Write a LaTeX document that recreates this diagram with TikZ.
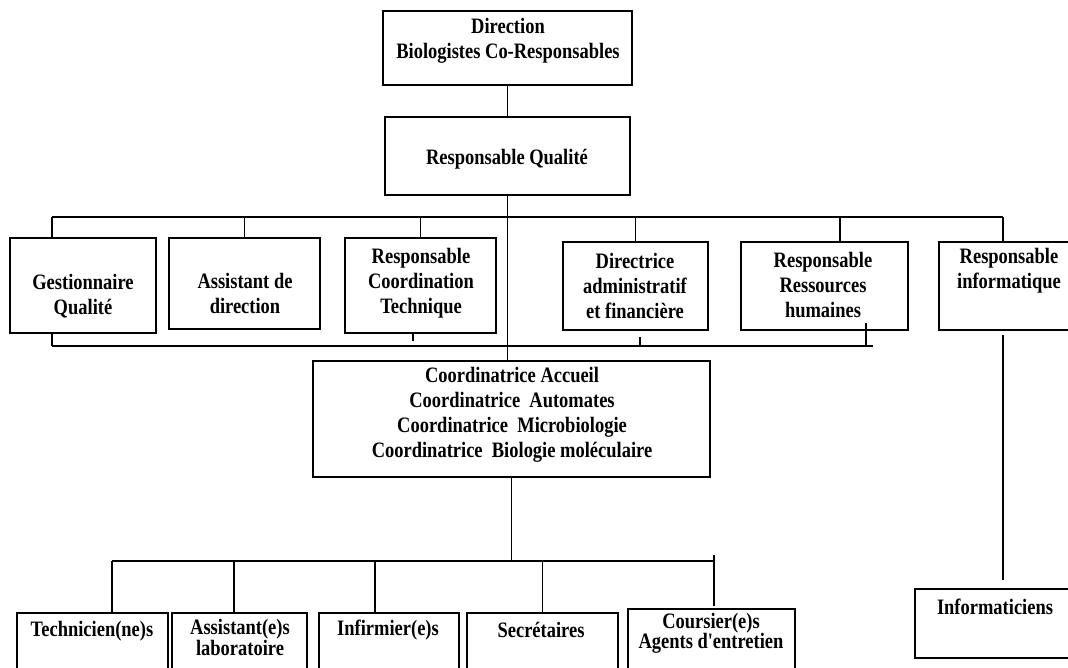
\documentclass[tikz,border=0pt]{standalone}
\usepackage{fontspec}
\newfontfamily\tnr[FakeStretch=0.84]{Liberation Serif}
\begin{document}
\begin{tikzpicture}[x=1pt,y=-1pt,
  box/.style={draw, line width=1.7pt, inner sep=0pt},
  txt/.style={font=\tnr\bfseries\fontsize{22}{25}\selectfont, align=center, inner sep=0pt},
  ln/.style={line width=1.7pt}]
\clip (0,0) rectangle (1068,667);
\fill[white] (0,0) rectangle (1068,667);
% boxes
\node[box, minimum width=249, minimum height=74] (dir) at (507.5,48) {};
\node[box, minimum width=245, minimum height=78] (rq) at (507.5,156) {};
\node[box, minimum width=146, minimum height=95] (gq) at (83,285.5) {};
\node[box, minimum width=151, minimum height=91] (ad) at (244.5,283.5) {};
\node[box, minimum width=151, minimum height=95] (rct) at (420.5,285.5) {};
\node[box, minimum width=145, minimum height=88] (daf) at (635.5,286) {};
\node[box, minimum width=167, minimum height=88] (rrh) at (824.5,286) {};
\node[box, minimum width=151, minimum height=88] (ri) at (1014.5,286) {};
\node[box, minimum width=397, minimum height=116] (coord) at (511.5,419) {};
\node[box, minimum width=151, minimum height=87] (tech) at (92.5,656.5) {};
\node[box, minimum width=135, minimum height=87] (asst) at (239.5,656.5) {};
\node[box, minimum width=140, minimum height=87] (inf) at (389,656.5) {};
\node[box, minimum width=151, minimum height=87] (sec) at (542.5,656.5) {};
\node[box, minimum width=167, minimum height=91] (cour) at (711.5,654.5) {};
\node[box, minimum width=175, minimum height=69] (info) at (1002.5,623.5) {};
% texts
\node[txt] (dir-t) at (508,41) {Direction\\Biologistes Co-Responsables};
\node[txt] (rq-t) at (507,159) {Responsable Qualité};
\node[txt] (gq-t) at (83,296) {Gestionnaire\\Qualité};
\node[txt] (ad-t) at (245,293) {Assistant de\\direction};
\node[txt] (rct-t) at (421,283) {Responsable\\Coordination\\Technique};
\node[txt] (daf-t) at (635,286) {Directrice\\administratif\\et financière};
\node[txt] (rrh-t) at (823,285) {Responsable\\Ressources\\humaines};
\node[txt] (ri-t) at (1009,271) {Responsable\\informatique};
\node[txt] (coord-t) at (512,415) {Coordinatrice Accueil\\Coordinatrice\ \ Automates\\Coordinatrice\ \ Microbiologie\\Coordinatrice\ \ Biologie moléculaire};
\node[txt] (tech-t) at (92,631) {Technicien(ne)s};
\node[txt, font=\tnr\bfseries\fontsize{22}{18}\selectfont] (asst-t) at (240,637) {Assistant(e)s\\laboratoire};
\node[txt] (inf-t) at (388,630) {Infirmier(e)s};
\node[txt] (sec-t) at (541,630) {Secrétaires};
\node[txt, font=\tnr\bfseries\fontsize{22}{20}\selectfont] (cour-t) at (711,633) {Coursier(e)s\\Agents d'entretien};
\node[txt] (info-t) at (995,607) {Informaticiens};
% connectors
\draw[ln] (dir.south) -- (rq.north);
\coordinate (tb1) at (52,217);
\coordinate (tb2) at (1003,217);
\draw[ln] (tb1) -- (tb2);
\draw[ln] (rq.south) -- (rq.south |- coord.north);
\draw[ln] (tb1) -- (tb1 |- gq.north);
\draw[ln] (ad.north) -- (ad.north |- tb1);
\draw[ln] (rct.north) -- (rct.north |- tb1);
\draw[ln] (daf.north) -- (daf.north |- tb1);
\coordinate (d5) at (840,217);
\draw[ln] (d5) -- (d5 |- rrh.north);
\draw[ln] (tb2) -- (tb2 |- ri.north);
% lower bus of second row
\coordinate (bb1) at (52,346);
\coordinate (bb2) at (873,346);
\draw[ln] (bb1) -- (bb2);
\draw[ln] (bb1 |- gq.south) -- (bb1);
\coordinate (k1a) at (413,333); \coordinate (k1b) at (413,341);
\draw[ln] (k1a) -- (k1b);
\coordinate (k2a) at (640,337); \coordinate (k2b) at (640,346);
\draw[ln] (k2a) -- (k2b);
\coordinate (k3a) at (866,323); \coordinate (k3b) at (866,346);
\draw[ln] (k3a) -- (k3b);
% bottom level
\coordinate (lb1) at (112,561);
\coordinate (lb2) at (714,561);
\draw[ln] (coord.south) -- (coord.south |- lb1);
\draw[ln] (lb1) -- (lb2);
\draw[ln] (lb1) -- (lb1 |- tech.north);
\coordinate (lb3) at (234,561);
\draw[ln] (lb3) -- (lb3 |- asst.north);
\coordinate (lb4) at (375,561);
\draw[ln] (lb4) -- (lb4 |- inf.north);
\draw[ln] (sec.north) -- (sec.north |- lb1);
\coordinate (c1) at (714,555); \coordinate (c2) at (714,606);
\draw[ln] (c1) -- (c2);
% informatique
\coordinate (ia) at (1003,335); \coordinate (ib) at (1003,580);
\draw[ln] (ia) -- (ib);
\end{tikzpicture}
\end{document}
